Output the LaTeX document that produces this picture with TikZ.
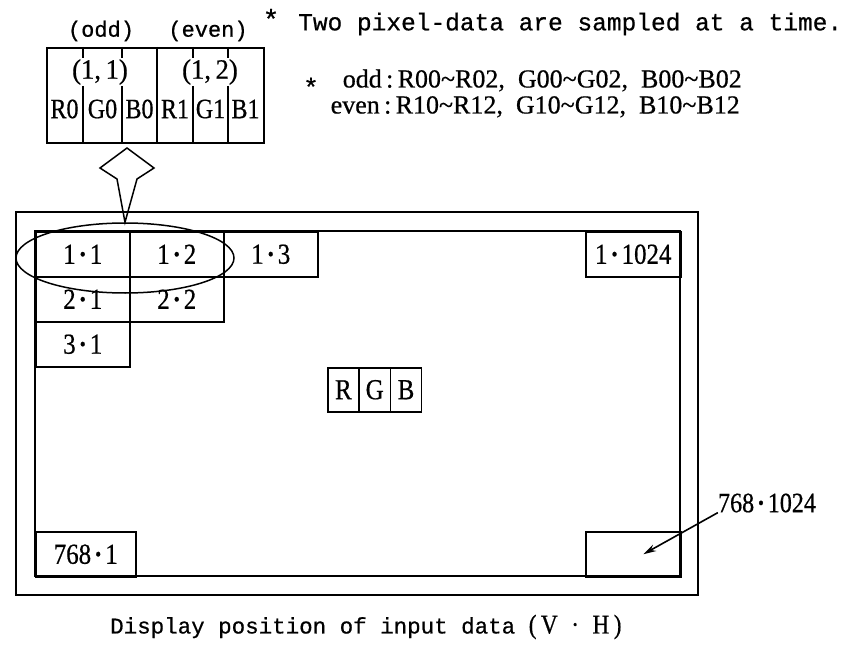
\documentclass[tikz,border=0pt]{standalone}
\usepackage{fontspec}
\setmainfont{Liberation Serif}
\newfontfamily\mono[FakeBold=0.6]{Liberation Mono}
\newfontfamily\cser[FakeStretch=0.86,FakeBold=0.6]{Liberation Serif}
\newfontfamily\cserw[FakeStretch=0.95,FakeBold=0.6]{Liberation Serif}
\newfontfamily\cserf[FakeBold=0.6]{Liberation Serif}
\usetikzlibrary{arrows.meta,shapes.geometric}
\newcommand{\md}{\hspace{0.1em}{\bfseries·}\hspace{0.1em}}
\newcommand{\tl}{\textasciitilde}
\tikzset{
  cell/.style={draw, line width=1.5pt, minimum width=94, minimum height=45, inner sep=0pt, anchor=north west, font=\cser\fontsize{29}{29}\selectfont},
  rgbcell/.style={draw, line width=1.5pt, minimum width=31.3, minimum height=44, inner sep=0pt, anchor=north west, font=\cser\fontsize{29}{29}\selectfont},
  lbl/.style={inner sep=0pt, font=\cser\fontsize{28}{28}\selectfont},
  noteline/.style={inner sep=0pt, anchor=east, text height=18pt, text depth=3pt, font=\cserf\fontsize{26}{26}\selectfont},
  monot/.style={inner sep=0pt, font=\mono\fontsize{22}{22}\selectfont},
  thin/.style={line width=1.5pt}
}
\begin{document}
\begin{tikzpicture}[x=1pt,y=-1pt]
\useasboundingbox (0,0) rectangle (851,650);
% frames
\draw[line width=2.8pt] (16,212) rectangle (698,595);
\draw[line width=2pt] (35,231) rectangle (680,576);
% cells
\node[cell] (c11) at (35,231) {1\md 1};
\node[cell] (c12) at (129,231) {1\md 2};
\node[cell] (c13) at (223,231) {1\md 3};
\node[cell] (c21) at (35,276) {2\md 1};
\node[cell] (c22) at (129,276) {2\md 2};
\node[cell] (c31) at (35,321) {3\md 1};
\node[cell, minimum width=95] (c1k) at (585,231) {1\md 1024};
\node[cell, minimum width=100] (c768) at (35,531) {768\md 1};
\node[cell, minimum width=95] (cend) at (585,531) {};
% RGB
\node[rgbcell] (r) at (327,367) {R};
\node[rgbcell] (g) at (358.3,367) {G};
\node[rgbcell] (b) at (389.6,367) {B};
% ellipse
\node[draw, thin, ellipse, minimum width=218, minimum height=70, inner sep=0pt] (ell) at (125,258) {};
% hollow arrow
\draw[thin, line join=miter] (ell.north) -- (117,179) -- (100,168) -- (127,148) -- (154,168) -- (137,179) -- cycle;
% top box
\node[draw, line width=1.8pt, minimum width=217, minimum height=95, anchor=north west, inner sep=0pt] (tbox) at (46,47) {};
\draw[thin] (157,47) -- (157,142);
\foreach \x in {83,122,193,228} {
  \draw[thin] (\x,47) -- (\x,58) (\x,86) -- (\x,142);
}
\node[lbl, font=\cserw\fontsize{28}{28}\selectfont] (p11) at (100,72) {(1,\,1)};
\node[lbl, font=\cserw\fontsize{28}{28}\selectfont] (p12) at (210,72) {(1,\,2)};
\node[lbl] (tr0) at (64.5,109) {R0};
\node[lbl] (tg0) at (102.5,109) {G0};
\node[lbl] (tb0) at (139.5,109) {B0};
\node[lbl] (tr1) at (175,109) {R1};
\node[lbl] (tg1) at (210.5,109) {G1};
\node[lbl] (tb1) at (245.5,109) {B1};
\node[monot] (odd) at (101,31) {(odd)};
\node[monot] (even) at (208,31) {(even)};
\node[monot, font=\mono\fontsize{28}{28}\selectfont] (star1) at (271,19) {*};
% right texts
\node[inner sep=0pt, anchor=west, font=\mono\fontsize{24.5}{24.5}\selectfont] (two) at (298,24) {Two pixel-data are sampled at a time.};
\node[monot, font=\mono\fontsize{26}{26}\selectfont] (star2) at (311,87) {*};
\node[noteline] (oddl) at (742,80) {odd\,:\,R00\tl R02,\enspace G00\tl G02,\enspace B00\tl B02};
\node[noteline] (evenl) at (740,106) {even\,:\,R10\tl R12,\enspace G10\tl G12,\enspace B10\tl B12};
% 768.1024 label and arrow
\node[lbl, font=\cser\fontsize{28}{28}\selectfont] (lend) at (767,503) {768\md 1024};
\draw[line width=1.6pt, -{Stealth[length=13pt,width=7pt]}] (lend.south west) -- ([xshift=10pt]cend.center);
% caption
\node[inner sep=0pt, anchor=west] (cap) at (110,627) {{\mono\fontsize{22.5}{22.5}\selectfont Display position of input data }{\cser\fontsize{27}{27}\selectfont(\,V\enspace·\enspace H\,)}};
\end{tikzpicture}
\end{document}
